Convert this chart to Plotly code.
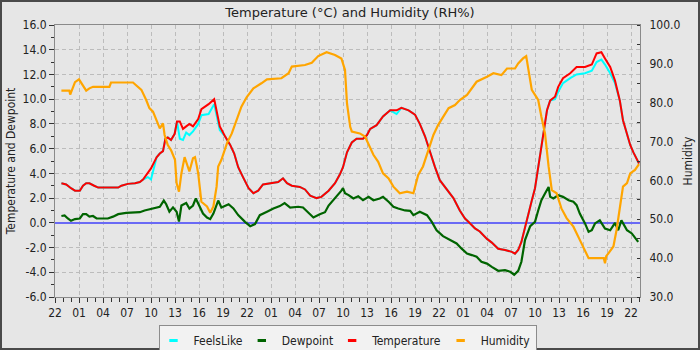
import pandas as pd
import plotly.graph_objects as go

# ---- readings (hours after 22:00 on the first day) ----
START = pd.Timestamp("2024-01-14 22:00")

TEMP_HOURS = [0.8, 1.4, 2.0, 2.5, 3.1, 3.5, 3.9, 4.3, 4.9, 5.4, 6.0, 7.0, 7.9, 8.3, 9.1,
              10.0, 10.6, 11.0, 11.6, 12.0, 12.7, 13.1, 13.5, 13.8, 14.1, 14.5, 14.96,
              15.25, 15.6, 16.0, 16.4, 16.8, 17.25, 17.9, 18.3, 19.2, 19.9, 20.2, 20.6,
              21.25, 21.9, 22.4, 22.9, 23.5, 24.2, 24.8, 25.4, 26.0, 27.1, 27.9, 28.5,
              29.0, 29.6, 30.6, 31.25, 31.9, 32.7, 33.3, 34.2, 35.0, 35.6, 36.0, 36.5,
              37.1, 37.7, 38.5, 39.0, 39.4, 40.2, 41.0, 41.9, 42.7, 43.3, 44.2, 45.0,
              45.6, 46.25, 46.9, 47.5, 48.1, 49.0, 49.8, 50.6, 51.25, 51.9, 52.5, 53.1,
              54.0, 54.6, 55.4, 56.25, 57.1, 57.5, 57.9, 58.3, 58.75, 59.2, 59.6, 60.0,
              60.4, 60.8, 61.2, 61.5, 61.9, 62.5, 62.9, 63.5, 64.4, 65.2, 66.25, 67.1,
              67.7, 68.3, 68.75, 69.4, 70.0, 70.6, 71.0, 71.5, 71.9, 72.3, 72.7, 73.0]

TEMPERATURE = [3.2, 3.1, 2.8, 2.6, 2.6, 3.0, 3.2, 3.2, 3.0, 2.85, 2.85, 2.85, 2.85, 3.0, 3.15,
               3.2, 3.3, 3.5, 4.0, 4.4, 5.3, 5.6, 5.8, 6.8, 6.9, 6.7, 7.2,
               8.2, 8.2, 7.6, 7.8, 8.0, 7.8, 8.4, 9.2, 9.6, 10.0, 9.1, 7.8,
               7.0, 6.3, 5.6, 4.5, 3.7, 2.8, 2.4, 2.6, 3.1, 3.2, 3.3, 3.6,
               3.2, 3.0, 2.9, 2.7, 2.2, 2.0, 2.1, 2.6, 3.2, 3.9, 4.5, 5.7,
               6.5, 6.8, 6.8, 7.1, 7.6, 7.9, 8.6, 9.1, 9.1, 9.3, 9.1, 8.75,
               8.0, 7.0, 5.6, 4.5, 3.45, 2.65, 2.0, 1.0, 0.35, -0.05, -0.45, -0.7,
               -1.3, -1.6, -2.1, -2.2, -2.35, -2.5, -2.2, -1.55, -0.45, 0.6, 1.8, 2.8,
               4.5, 6.1, 7.5, 9.1, 9.9, 10.2, 11.0, 11.7, 12.1, 12.6, 12.6, 12.8,
               13.7, 13.8, 13.3, 12.6, 11.5, 9.9, 8.3, 7.1, 6.3, 5.7, 5.1, 4.8]

FEELS_LIKE = [3.2, 3.1, 2.8, 2.6, 2.6, 3.0, 3.2, 3.2, 3.0, 2.85, 2.85, 2.85, 2.85, 3.0, 3.15,
              3.2, 3.3, 3.5, 3.7, 3.5, 5.3, 5.6, 5.8, 6.8, 6.9, 6.7, 7.2,
              8.2, 6.8, 6.7, 7.3, 7.1, 7.4, 8.0, 8.7, 8.8, 9.6, 8.7, 7.5,
              7.0, 6.3, 5.6, 4.5, 3.7, 2.8, 2.4, 2.6, 3.1, 3.2, 3.3, 3.6,
              3.2, 3.0, 2.9, 2.7, 2.2, 2.0, 2.1, 2.6, 3.2, 3.9, 4.5, 5.7,
              6.5, 6.8, 6.8, 7.1, 7.6, 7.9, 8.6, 9.1, 8.8, 9.3, 9.1, 8.75,
              8.0, 7.0, 5.6, 4.5, 3.45, 2.65, 2.0, 1.0, 0.35, -0.05, -0.45, -0.7,
              -1.3, -1.6, -2.1, -2.2, -2.35, -2.5, -2.2, -1.55, -0.45, 0.6, 1.8, 2.8,
              4.5, 6.1, 7.5, 9.1, 9.9, 10.0, 10.6, 11.3, 11.7, 12.0, 12.1, 12.3,
              13.0, 13.2, 12.8, 12.1, 11.3, 9.9, 8.3, 7.1, 6.3, 5.7, 5.1, 4.8]

DEW_HOURS = [0.8, 1.2, 1.6, 2.0, 2.5, 3.1, 3.5, 3.9, 4.3, 4.75, 5.2, 6.6, 7.25, 7.9, 8.9,
             10.0, 10.6, 11.2, 11.8, 12.5, 13.1, 13.6, 13.9, 14.3, 14.75, 15.2, 15.5,
             15.8, 16.4, 16.8, 17.25, 17.6, 18.0, 18.5, 19.0, 19.4, 19.8, 20.4, 20.8,
             21.7, 22.3, 22.9, 23.75, 24.4, 25.0, 25.6, 26.5, 27.3, 28.1, 28.7, 29.4,
             30.4, 31.0, 31.7, 32.3, 33.1, 33.75, 34.2, 35.0, 35.8, 36.0, 36.25, 36.7,
             37.3, 37.9, 38.5, 39.2, 39.8, 40.6, 41.0, 41.7, 42.3, 42.9, 43.75, 44.4,
             44.8, 45.6, 46.5, 47.1, 47.7, 48.5, 49.4, 50.2, 50.8, 51.5, 52.1, 52.7,
             53.3, 54.0, 54.6, 55.4, 56.25, 56.9, 57.4, 57.9, 58.3, 58.75, 59.4, 60.0,
             60.4, 60.8, 61.25, 61.7, 61.9, 62.3, 62.9, 63.5, 64.2, 64.8, 65.2, 65.6,
             66.25, 66.7, 67.1, 67.5, 68.1, 68.75, 69.4, 70.0, 70.4, 70.8, 71.5, 72.1, 72.9]

DEWPOINT = [0.55, 0.6, 0.35, 0.16, 0.3, 0.35, 0.7, 0.7, 0.5, 0.55, 0.35, 0.35, 0.5, 0.7, 0.8,
            0.8, 0.86, 1.0, 1.1, 1.25, 1.3, 1.8, 1.5, 0.9, 1.25, 0.9, 0.1,
            1.4, 1.6, 1.16, 1.4, 1.97, 1.4, 0.75, 0.43, 0.3, 0.75, 1.8, 1.24,
            1.5, 1.16, 0.62, 0.08, -0.27, -0.1, 0.62, 0.9, 1.16, 1.35, 1.6, 1.24,
            1.3, 1.24, 0.8, 0.43, 0.7, 0.86, 1.4, 1.97, 2.6, 2.8, 2.4, 2.24,
            1.97, 2.15, 1.83, 2.1, 1.83, 1.97, 2.1, 1.7, 1.3, 1.16, 1.0, 0.97,
            0.62, 0.9, 0.62, 0.08, -0.6, -1.08, -1.4, -1.67, -2.07, -2.48, -2.61, -2.75,
            -3.15, -3.3, -3.56, -3.88, -3.83, -3.96, -4.2, -3.88, -3.15, -1.4, -0.27, 0.08,
            1.0, 1.83, 2.37, 2.9, 2.1, 1.97, 2.24, 2.1, 1.83, 1.7, 1.43, 0.75,
            -0.05, -0.73, -0.6, -0.05, 0.2, -0.46, -0.6, 0.0, -0.6, 0.2, -0.6, -0.86, -1.54]

HUM_HOURS = [0.8, 1.8, 1.9, 2.1, 2.5, 3.0, 3.3, 3.9, 4.3, 4.75, 6.8, 7.0, 9.75, 10.2, 10.8,
             11.4, 11.8, 12.25, 12.7, 13.1, 13.5, 13.7, 14.1, 14.5, 15.0, 15.2, 15.5,
             15.8, 16.2, 16.6, 16.8, 17.25, 17.5, 17.7, 17.9, 18.3, 19.0, 19.4, 19.8,
             20.2, 20.4, 20.8, 21.5, 22.1, 22.7, 23.3, 23.95, 24.8, 25.8, 26.5, 28.3,
             29.2, 29.6, 31.25, 32.1, 32.9, 33.95, 35.0, 35.8, 36.25, 36.5, 36.9, 37.1,
             38.1, 38.75, 39.2, 39.8, 40.4, 41.0, 41.7, 42.3, 43.1, 44.0, 44.8, 45.4,
             46.0, 46.7, 47.3, 47.9, 48.5, 49.2, 50.0, 50.6, 51.5, 52.1, 52.7, 54.0,
             54.8, 55.8, 56.5, 57.5, 57.9, 58.5, 58.9, 59.25, 59.6, 60.0, 60.4, 60.8,
             61.25, 61.7, 62.1, 62.7, 63.3, 63.95, 64.8, 65.6, 66.25, 66.7, 67.9, 68.6,
             68.75, 68.9, 69.2, 69.8, 70.2, 70.6, 71.0, 71.5, 71.9, 72.5, 73.0]

HUMIDITY = [83.1, 83.1, 82.1, 83.1, 85.3, 86.0, 85.0, 83.1, 83.7, 84.1, 84.1, 85.2, 85.2, 84.3, 83.3,
            80.7, 78.6, 77.7, 75.6, 73.4, 74.7, 71.7, 69.1, 67.8, 65.3, 59.3, 57.1,
            61.8, 66.0, 63.6, 62.3, 65.7, 66.0, 64.0, 61.8, 54.5, 53.3, 51.7, 53.3,
            58.4, 63.6, 65.3, 69.6, 72.1, 75.6, 79.0, 81.4, 83.7, 85.0, 86.0, 86.3,
            87.6, 89.3, 89.7, 90.3, 92.0, 93.0, 92.3, 91.4, 88.4, 79.8, 73.8, 72.6,
            72.1, 71.3, 69.1, 66.6, 64.8, 61.8, 60.5, 58.4, 56.7, 57.1, 56.7, 61.4,
            63.6, 68.3, 71.7, 74.3, 76.4, 78.6, 79.4, 80.7, 82.0, 83.7, 85.4, 86.7,
            87.6, 87.1, 88.8, 88.8, 90.1, 91.4, 92.0, 87.6, 83.3, 82.0, 80.7, 76.4,
            72.1, 63.6, 57.5, 56.7, 52.8, 50.3, 48.1, 44.7, 41.7, 40.0, 40.0, 40.0,
            38.7, 40.5, 41.3, 43.0, 47.3, 52.4, 58.4, 59.3, 61.8, 62.7, 64.2]

# axis tick labels
TEMP_TICKS = [-6, -4, -2, 0, 2, 4, 6, 8, 10, 12, 14, 16]
TEMP_TICK_TEXT = ["-6.0", "-4.0", "-2.0", "0.0", "2.0", "4.0", "6.0", "8.0",
                  "10.0", "12.0", "14.0", "16.0"]
HUM_TICKS = [30, 40, 50, 60, 70, 80, 90, 100]
HUM_TICK_TEXT = ["30.0", "40.0", "50.0", "60.0", "70.0", "80.0", "90.0", "100.0"]

SERIES_COLORS = {
    "FeelsLike": "#00ffff",
    "Dewpoint": "#006400",
    "Temperature": "#ff0000",
    "Humidity": "#ffa500",
}


def to_time(hours):
    return [START + pd.Timedelta(hours=h) for h in hours]


FONT = "DejaVu Sans Condensed, DejaVu Sans, sans-serif"
TITLE_FONT = "DejaVu Sans, sans-serif"
GRID = "#bcbcbc"
FRAME = "#8a8a8a"

fig = go.Figure()

# data lines (legend drawn with short-dash proxies below)
fig.add_trace(go.Scatter(x=to_time(TEMP_HOURS), y=FEELS_LIKE, mode="lines",
                         line=dict(color=SERIES_COLORS["FeelsLike"], width=2),
                         showlegend=False, yaxis="y"))
fig.add_trace(go.Scatter(x=to_time(DEW_HOURS), y=DEWPOINT, mode="lines",
                         line=dict(color=SERIES_COLORS["Dewpoint"], width=2.2),
                         showlegend=False, yaxis="y"))
fig.add_trace(go.Scatter(x=to_time(TEMP_HOURS), y=TEMPERATURE, mode="lines",
                         line=dict(color=SERIES_COLORS["Temperature"], width=2),
                         showlegend=False, yaxis="y"))
fig.add_trace(go.Scatter(x=to_time(HUM_HOURS), y=HUMIDITY, mode="lines",
                         line=dict(color=SERIES_COLORS["Humidity"], width=2.2),
                         showlegend=False, yaxis="y2"))

for name, color in SERIES_COLORS.items():
    fig.add_trace(go.Scatter(
        x=[None], y=[None], mode="markers", name=name, showlegend=True,
        marker=dict(symbol="line-ew", size=6, color=color,
                    line=dict(color=color, width=3)),
    ))

x_end = START + pd.Timedelta(hours=73.125)

fig.update_layout(
    width=700, height=350,
    margin=dict(l=55, r=60, t=25, b=53, autoexpand=False),
    paper_bgcolor="#e6e6e6",
    plot_bgcolor="#e6e6e6",
    font=dict(family=FONT, size=12, color="#222222"),
    title=dict(text="Temperature (°C) and Humidity (RH%)", x=0.5, xanchor="center",
               y=0.965, yanchor="middle", yref="container",
               font=dict(family=TITLE_FONT, size=13, color="#222222")),
    xaxis=dict(
        type="date", range=[START, x_end],
        tick0=START, dtick=3 * 3600 * 1000, tickformat="%H",
        ticks="outside", ticklen=5, tickcolor="#333333",
        showline=True, linecolor=FRAME, linewidth=1, mirror=True,
        showgrid=True, gridcolor=GRID, griddash="4px,3px", gridwidth=1,
        minor=dict(dtick=3600 * 1000, tick0=START, ticks="outside", ticklen=4,
                   tickcolor="#333333", showgrid=False),
        zeroline=False,
        tickfont=dict(size=12),
    ),
    yaxis=dict(
        range=[-6, 16], tickvals=TEMP_TICKS, ticktext=TEMP_TICK_TEXT,
        ticks="outside", ticklen=5, tickcolor="#333333",
        minor=dict(dtick=1, ticks="outside", ticklen=3, tickcolor="#333333",
                   showgrid=False),
        showline=True, linecolor=FRAME, linewidth=1,
        showgrid=True, gridcolor=GRID, griddash="4px,3px", gridwidth=1,
        zeroline=True, zerolinecolor="#6a6af5", zerolinewidth=2,
        title=dict(text="Temperature and Dewpoint", standoff=4,
                   font=dict(size=12)),
        tickfont=dict(size=12),
    ),
    yaxis2=dict(
        range=[30, 100], tickvals=HUM_TICKS, ticktext=HUM_TICK_TEXT,
        overlaying="y", side="right",
        ticks="", ticklabelstandoff=6,
        minor=dict(dtick=5, ticks="inside", ticklen=3, tickcolor="#333333",
                   showgrid=False),
        showline=True, linecolor=FRAME, linewidth=1,
        showgrid=False, zeroline=False,
        title=dict(text="Humidity", standoff=4, font=dict(size=12)),
        tickfont=dict(size=12),
    ),
    legend=dict(
        orientation="h", x=0.5, xanchor="center", y=-0.103, yanchor="top",
        bgcolor="#f2f2f2", bordercolor="#8c8c8c", borderwidth=1,
        font=dict(family=FONT, size=12, color="#222222"),
        itemwidth=30, indentation=-6,
    ),
    shapes=[dict(
        type="rect", xref="paper", yref="paper",
        x0=(1 - 55) / 585, x1=(699 - 55) / 585,
        y0=(297 - 349) / 272, y1=(297 - 1) / 272,
        line=dict(color="#4a4a4a", width=2), fillcolor="rgba(0,0,0,0)",
        layer="above",
    )],
    showlegend=True,
)

fig.write_html("out.html")
